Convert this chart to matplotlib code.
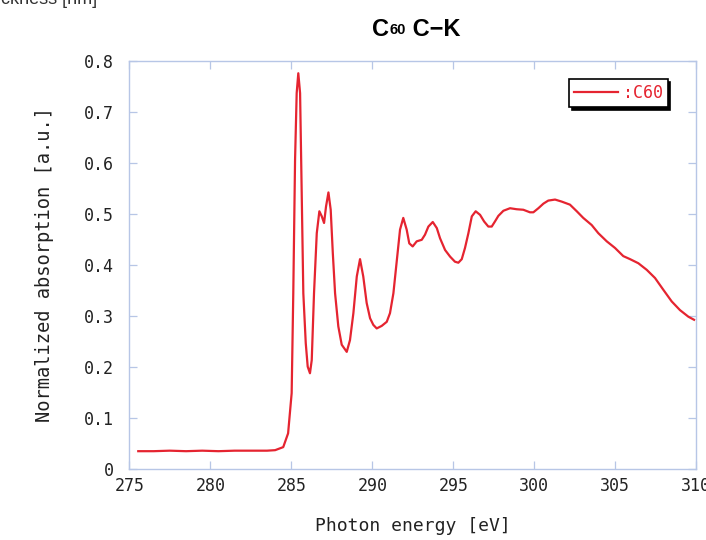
import numpy as np
import matplotlib
matplotlib.use('Agg')
import matplotlib.pyplot as plt

# C60 C-K edge NEXAFS
energy = [275.55, 276.5, 277.5, 278.5, 279.5, 280.5, 281.5, 282.5, 283.5, 284.0,
          284.5, 284.8, 285.02, 285.12, 285.23, 285.33, 285.43, 285.54, 285.64, 285.74,
          285.89, 286.01, 286.15, 286.26, 286.4, 286.57, 286.73, 286.88, 287.02, 287.14,
          287.29, 287.43, 287.56, 287.70, 287.9, 288.11, 288.42, 288.62, 288.83, 289.04,
          289.24, 289.44, 289.65, 289.86, 290.06, 290.27, 290.58, 290.89, 291.09, 291.3,
          291.5, 291.71, 291.91, 292.12, 292.28, 292.49, 292.74, 293.05, 293.25, 293.46,
          293.73, 293.98, 294.18, 294.49, 294.8, 295.1, 295.31, 295.52, 295.72, 295.93,
          296.14, 296.38, 296.65, 296.9, 297.16, 297.37, 297.57, 297.78, 298.09, 298.5,
          298.91, 299.32, 299.73, 299.94, 300.25, 300.56, 300.86, 301.28, 301.69, 302.2,
          302.62, 303.02, 303.54, 303.95, 304.47, 304.98, 305.49, 305.91, 306.42, 306.94,
          307.45, 307.96, 308.48, 308.99, 309.51, 309.86]
absorption = [0.034, 0.034, 0.035, 0.034, 0.035, 0.034, 0.035, 0.035, 0.035, 0.036,
              0.042, 0.069, 0.148, 0.344, 0.606, 0.737, 0.776, 0.737, 0.541, 0.344,
              0.246, 0.200, 0.187, 0.213, 0.344, 0.462, 0.505, 0.495, 0.482, 0.514,
              0.542, 0.508, 0.423, 0.344, 0.279, 0.243, 0.229, 0.252, 0.305, 0.377,
              0.411, 0.377, 0.325, 0.295, 0.282, 0.275, 0.280, 0.288, 0.305, 0.344,
              0.405, 0.469, 0.492, 0.469, 0.442, 0.436, 0.446, 0.449, 0.459, 0.475,
              0.484, 0.472, 0.452, 0.429, 0.416, 0.406, 0.404, 0.411, 0.433, 0.462,
              0.495, 0.505, 0.498, 0.485, 0.475, 0.475, 0.485, 0.496, 0.506, 0.511,
              0.509, 0.508, 0.503, 0.503, 0.511, 0.520, 0.526, 0.528, 0.524, 0.518,
              0.505, 0.492, 0.478, 0.462, 0.446, 0.433, 0.417, 0.411, 0.403, 0.390,
              0.374, 0.351, 0.328, 0.311, 0.298, 0.292]

xticks = [275, 280, 285, 290, 295, 300, 305, 310]
yticks = [0, 0.1, 0.2, 0.3, 0.4, 0.5, 0.6, 0.7, 0.8]
ytick_labels = ['0', '0.1', '0.2', '0.3', '0.4', '0.5', '0.6', '0.7', '0.8']

red = '#e52430'
frame = '#b7c6e6'
txt = '#222222'
mono = ['DejaVu Sans Mono']

fig = plt.figure(figsize=(7.06, 5.40), dpi=100)
ax = fig.add_axes([0.1832, 0.1324, 0.8031, 0.7546])

ax.plot(energy, absorption, color=red, lw=1.6, label=':C60')

ax.set_xlim(275, 310)
ax.set_ylim(0, 0.8)
ax.set_xticks(xticks)
ax.set_xticklabels([str(t) for t in xticks], family=mono, fontsize=12, color=txt)
ax.set_yticks(yticks)
ax.set_yticklabels(ytick_labels, family=mono, fontsize=12, color=txt)
ax.tick_params(axis='both', direction='in', length=5.5, width=0.9, color=frame,
               top=True, right=True)
ax.tick_params(axis='y', pad=11)
ax.tick_params(axis='x', pad=6)
for s in ax.spines.values():
    s.set_color(frame)
    s.set_linewidth(1.0)

ax.set_xlabel('Photon energy [eV]', family=mono, fontsize=13, color=txt, labelpad=16)
ax.set_ylabel('Normalized absorption [a.u.]', family=mono, fontsize=13.5, color=txt, labelpad=22)

leg = ax.legend(loc='upper right', bbox_to_anchor=(0.964, 0.977), fancybox=False,
                shadow={'color': 'black', 'alpha': 1.0}, edgecolor='black',
                framealpha=1, handlelength=2.6, handletextpad=0.3, borderpad=0.3,
                prop={'family': mono, 'size': 12}, labelcolor=red)
leg.get_frame().set_linewidth(1.2)

# title: "C" + small "60" + " C-K"
t1 = fig.text(0.5215, 0.933, 'C', family='Liberation Sans', weight='bold',
              fontsize=17, color='black', ha='left', va='baseline')
fig.canvas.draw()
t2 = ax.annotate('60', xy=(1, 0), xycoords=t1, xytext=(0.5, 3.2), textcoords='offset points',
                 family='Liberation Sans', weight='bold', fontsize=10.5,
                 ha='left', va='bottom', color='black')
t3 = ax.annotate(' C\u2212K', xy=(1, 0), xycoords=t2, xytext=(0, -3.2),
                 textcoords='offset points', family='Liberation Sans',
                 weight='bold', fontsize=17, ha='left', va='bottom', color='black')
fig.canvas.draw()
# re-centre the title over the axes
r = fig.canvas.get_renderer()
x0 = t1.get_window_extent(r).x0
x1 = t3.get_window_extent(r).x1
shift = (ax.get_window_extent(r).x0 + ax.get_window_extent(r).x1) / 2 - (x0 + x1) / 2
t1.set_x(t1.get_position()[0] + (shift + 3) / fig.bbox.width)

# leftover label of a neighbouring chart, cut at the top edge
fig.text(0.138, 1.0, 'Thickness [nm]', family='Liberation Sans', fontsize=13,
         color='#333333', ha='right', va='center')

fig.savefig('out.png', dpi=100)
